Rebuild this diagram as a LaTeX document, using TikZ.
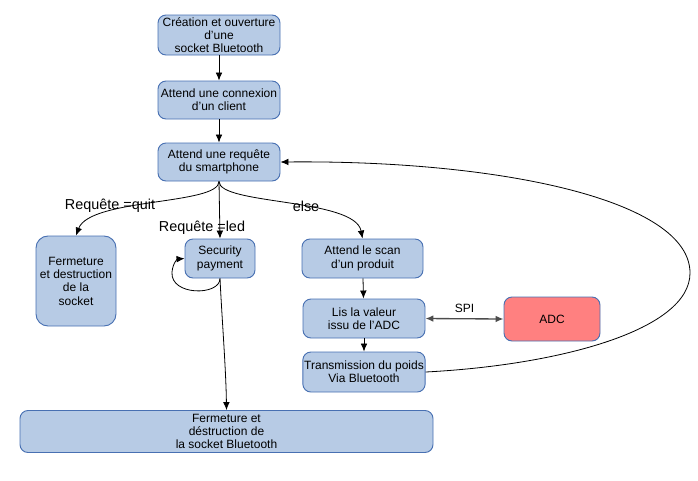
\documentclass[tikz,border=0pt]{standalone}
\usepackage{fontspec}
\setmainfont{Liberation Sans}
\usetikzlibrary{arrows.meta}
\definecolor{boxfill}{RGB}{183,203,229}
\definecolor{boxdraw}{RGB}{72,112,178}
\definecolor{adcfill}{RGB}{255,128,128}
\tikzset{
  box/.style={draw=boxdraw, fill=boxfill, line width=0.7pt, rounded corners=6pt, align=center,
    inner sep=1pt, font=\fontsize{9}{10}\selectfont},
  arr/.style={-{Latex[length=6pt,width=5pt]}, line width=0.6pt},
  lbl/.style={font=\fontsize{10.8}{12}\selectfont, inner sep=0pt},
}
\begin{document}
\begin{tikzpicture}[x=0.75pt,y=-0.75pt]
\useasboundingbox (0,0) rectangle (698,480);
\node[box, minimum width=91.5pt, minimum height=30pt] (b1) at (219,35) {Création et ouverture\\d'une\\socket Bluetooth};
\node[box, minimum width=91.5pt, minimum height=28.5pt] (b2) at (219,100) {Attend une connexion\\d'un client};
\node[box, minimum width=91.5pt, minimum height=28.5pt] (b3) at (219,162) {Attend une requête\\du smartphone};
\node[box, minimum width=60pt, minimum height=67.5pt, rounded corners=9pt] (b4) at (76,281) {Fermeture\\et destruction\\de la\\socket};
\node[box, minimum width=52.5pt, minimum height=29.25pt] (b5) at (220,258.5) {Security\\payment};
\node[box, minimum width=90.75pt, minimum height=29.25pt] (b6) at (362.5,258.5) {Attend le scan\\d'un produit};
\node[box, minimum width=91.5pt, minimum height=29.25pt] (b7) at (364,318.5) {Lis la valeur\\issu de l'ADC};
\node[box, minimum width=91.5pt, minimum height=30pt] (b8) at (364,372) {Transmission du poids\\Via Bluetooth};
\node[box, fill=adcfill, minimum width=72pt, minimum height=33pt] (b9) at (552,319) {ADC};
\node[box, minimum width=309.75pt, minimum height=31.5pt] (b10) at (226.5,431.5) {Fermeture et\\déstruction de\\la socket Bluetooth};

\draw[arr] (b1) -- (b2);
\draw[arr] (b2) -- (b3);
\draw[arr] (b3.south) .. controls (219,205) and (90,198) .. (b4.north);
\draw[arr] (b3.south) -- (b5.north);
\draw[arr] (b3.south) .. controls (219,205) and (355,198) .. (b6.north);
\node[lbl] (lq) at (110,206) {Requête =quit};
\node[lbl] (ll) at (202,228) {Requête =led};
\node[lbl] (le) at (306,206) {else};

\draw[arr] (b5.south) .. controls (220,296) and (170,296) .. (172,272) .. controls (173,262) and (178,259) .. (b5.west);
\draw[arr] (b5.south) .. controls (222,320) and (226,370) .. (b10.north);

\draw[arr] (b6) -- (b7);
\draw[arr] (b7) -- (b8);
\draw[{Latex[length=6pt,width=5pt]}-{Latex[length=6pt,width=5pt]}, line width=1pt, draw=black!70] (b7.east) -- (b9.west) node[midway, above=1pt, font=\fontsize{9}{10}\selectfont, text=black] (spi) {SPI};

\draw[arr] (b8.east) .. controls (560,365) and (690,330) .. (690,273) .. controls (690,200) and (500,160) .. (b3.east);
\end{tikzpicture}
\end{document}
